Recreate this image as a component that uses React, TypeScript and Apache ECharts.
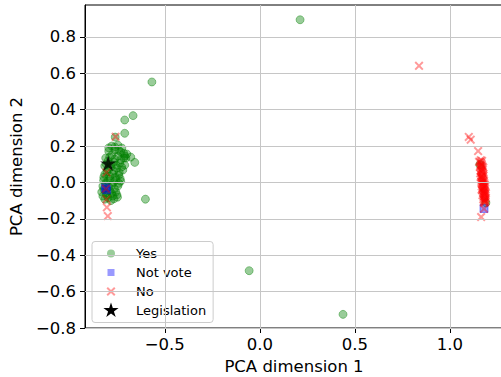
import React, { useEffect, useRef } from 'react';
import * as echarts from 'echarts';

const xTicks = [-0.5, 0.0, 0.5, 1.0];
const yTicks = [-0.8, -0.6, -0.4, -0.2, 0.0, 0.2, 0.4, 0.6, 0.8];
const seriesNames = ['Yes', 'Not vote', 'No', 'Legislation'];

const yesPoints: [number, number][] = [
  [0.212, 0.894], [-0.568, 0.552], [-0.056, -0.485], [0.438, -0.725], [-0.602, -0.092],
  [-0.667, 0.367], [-0.711, 0.343], [-0.711, 0.27], [-0.761, 0.249], [-0.658, 0.11],
  [-0.749, -0.081], [-0.705, 0.134], [-0.71, 0.145],
  [-0.779, 0.2], [-0.747, 0.205], [-0.726, 0.189], [-0.795, 0.172], [-0.763, 0.178],
  [-0.732, 0.167], [-0.7, 0.156], [-0.679, 0.139], [-0.779, 0.15], [-0.747, 0.145],
  [-0.716, 0.134], [-0.811, 0.134], [-0.8, 0.117], [-0.768, 0.111], [-0.737, 0.106],
  [-0.711, 0.095], [-0.816, 0.09], [-0.784, 0.084], [-0.753, 0.079], [-0.721, 0.068],
  [-0.805, 0.057], [-0.774, 0.046], [-0.742, 0.04], [-0.821, 0.029], [-0.789, 0.018],
  [-0.758, 0.013], [-0.732, 0.007], [-0.811, -0.004], [-0.779, -0.015], [-0.747, -0.02],
  [-0.821, -0.037], [-0.789, -0.048], [-0.758, -0.053], [-0.805, -0.07], [-0.774, -0.075],
  [-0.816, -0.092], [-0.784, -0.1], [-0.826, -0.02], [-0.832, -0.053],
  [-0.795, 0.19], [-0.763, 0.195], [-0.742, 0.176], [-0.716, 0.16], [-0.79, 0.14],
  [-0.763, 0.128], [-0.732, 0.125], [-0.808, 0.1], [-0.784, 0.1], [-0.756, 0.095],
  [-0.727, 0.085], [-0.8, 0.072], [-0.768, 0.062], [-0.74, 0.055], [-0.816, 0.045],
  [-0.79, 0.035], [-0.76, 0.028], [-0.735, 0.022], [-0.8, 0.008], [-0.77, 0.0],
  [-0.742, -0.005], [-0.822, 0.012], [-0.795, -0.025], [-0.765, -0.035], [-0.81, -0.058],
  [-0.78, -0.06], [-0.752, -0.068], [-0.798, -0.085], [-0.768, -0.09], [-0.826, -0.075],
  [1.158, 0.098], [1.19, -0.112],
];

const notVotePoints: [number, number][] = [
  [-0.812, -0.03], [-0.806, -0.04], [1.18, -0.143],
];

const noPoints: [number, number][] = [
  [-0.759, 0.251], [-0.807, 0.055], [-0.81, -0.035], [-0.807, -0.093], [-0.805, -0.137], [-0.8, -0.185],
  [0.838, 0.641],
  [1.1, 0.25], [1.11, 0.235], [1.149, 0.172], [1.154, 0.113],
  [1.163, 0.122], [1.17, 0.118], [1.166, 0.105], [1.161, 0.095], [1.171, 0.09], [1.166, 0.078],
  [1.174, 0.07], [1.163, 0.064], [1.169, 0.055], [1.176, 0.047], [1.166, 0.04], [1.172, 0.031],
  [1.178, 0.022], [1.168, 0.015], [1.175, 0.006], [1.181, -0.003], [1.17, -0.01], [1.177, -0.019],
  [1.183, -0.027], [1.173, -0.034], [1.18, -0.043], [1.186, -0.05], [1.175, -0.058], [1.183, -0.066],
  [1.188, -0.074], [1.178, -0.081], [1.185, -0.089], [1.181, -0.098], [1.188, -0.104], [1.184, -0.11],
  [1.16, 0.112], [1.168, 0.098], [1.176, 0.082], [1.158, 0.085], [1.165, 0.068], [1.173, 0.06],
  [1.16, 0.05], [1.178, 0.038], [1.165, 0.028], [1.171, 0.02], [1.18, 0.01], [1.166, 0.003],
  [1.172, -0.004], [1.184, -0.012], [1.168, -0.022], [1.176, -0.028], [1.186, -0.036], [1.171, -0.045],
  [1.178, -0.052], [1.19, -0.06], [1.172, -0.07], [1.181, -0.075], [1.19, -0.085], [1.176, -0.092],
  [1.186, -0.097], [1.179, -0.107], [1.162, 0.03], [1.167, -0.04], [1.182, -0.062], [1.187, -0.02],
  [1.18, -0.145], [1.165, -0.19],
];

const legislationPoints: [number, number][] = [[-0.798, 0.105]];

const X_PATH = 'path://M0,1.4L1.4,0L4.5,3.1L7.6,0L9,1.4L5.9,4.5L9,7.6L7.6,9L4.5,5.9L1.4,9L0,7.6L3.1,4.5Z';
const STAR_PATH = 'path://M50,0L61.23,34.55L97.55,34.55L68.16,55.9L79.39,90.45L50,69.1L20.61,90.45L31.84,55.9L2.45,34.55L38.77,34.55Z';

const BOX = 'M0,0L0,0.01M35,16L35,15.99';
const LEG_CIRCLE = 'path://' + BOX + 'M11,8A4,4,0,1,0,19,8A4,4,0,1,0,11,8Z';
const LEG_SQUARE = 'path://' + BOX + 'M11.5,4.5L18.5,4.5L18.5,11.5L11.5,11.5Z';
const LEG_X = 'path://' + BOX + 'M10.5,4.9L11.9,3.5L15,6.6L18.1,3.5L19.5,4.9L16.4,8L19.5,11.1L18.1,12.5L15,9.4L11.9,12.5L10.5,11.1L13.6,8Z';
const LEG_STAR = 'path://' + BOX + 'M15,0L16.8,5.53L22.61,5.53L17.91,8.94L19.7,14.47L15,11.06L10.3,14.47L12.09,8.94L7.39,5.53L13.2,5.53Z';

const fmt = (v: number) => v.toFixed(1).replace('-', '\u2212');
const GRID_COLOR = '#c6c6c6';

export default function App() {
  const ref = useRef<HTMLDivElement>(null);
  useEffect(() => {
    if (!ref.current) return;
    const chart = echarts.init(ref.current, null, { renderer: 'svg' });
    const font = 'DejaVu Sans';
    chart.setOption({
      animation: false,
      textStyle: { fontFamily: font },
      grid: {
        left: 85, top: 5, right: -2, bottom: 49,
        outerBoundsMode: 'none', containLabel: false,
        show: true, borderColor: '#000', borderWidth: 1, backgroundColor: 'transparent',
      },
      xAxis: {
        type: 'value', min: -0.92, max: 1.28,
        name: 'PCA dimension 1', nameLocation: 'middle', nameGap: 27,
        nameTextStyle: { fontSize: 16.5, color: '#000', fontFamily: font },
        axisLine: { show: true, onZero: false, lineStyle: { color: '#000', width: 1 } },
        axisTick: { show: true, length: 5, customValues: xTicks, lineStyle: { color: '#000' } },
        axisLabel: { customValues: xTicks, formatter: fmt, fontSize: 16.5, color: '#000', margin: 8, fontFamily: font },
        splitLine: { show: false },
      },
      yAxis: {
        type: 'value', min: -0.8, max: 0.975,
        name: 'PCA dimension 2', nameLocation: 'middle', nameGap: 57,
        nameTextStyle: { fontSize: 16.5, color: '#000', fontFamily: font },
        axisLine: { show: true, onZero: false, lineStyle: { color: '#000', width: 1 } },
        axisTick: { show: true, length: 5, customValues: yTicks, lineStyle: { color: '#000' } },
        axisLabel: { customValues: yTicks, formatter: fmt, fontSize: 16.5, color: '#000', margin: 9, fontFamily: font },
        splitLine: { show: false },
      },
      legend: {
        orient: 'vertical', left: 92, top: 241.5,
        itemWidth: 35, itemHeight: 16, itemGap: 3,
        padding: [4, 7, 4, 4],
        backgroundColor: 'rgba(255,255,255,0.8)', borderColor: '#cccccc', borderWidth: 1, borderRadius: 3,
        textStyle: { fontFamily: font, fontSize: 13, color: '#000' },
        itemStyle: { borderWidth: 0 },
        selectedMode: false,
        data: [
          { name: seriesNames[0], icon: LEG_CIRCLE },
          { name: seriesNames[1], icon: LEG_SQUARE },
          { name: seriesNames[2], icon: LEG_X },
          { name: seriesNames[3], icon: LEG_STAR, itemStyle: { color: '#000', opacity: 1 } },
        ],
      },
      series: [
        {
          type: 'scatter', name: 'gridlines', data: [], z: 1, silent: true,
          markLine: {
            silent: true, symbol: ['none', 'none'], label: { show: false },
            lineStyle: { color: GRID_COLOR, width: 1, type: 'solid' },
            emphasis: { disabled: true },
            data: [
              ...xTicks.map((v) => ({ xAxis: v })),
              ...yTicks.map((v) => ({ yAxis: v })),
            ],
          },
        },
        {
          type: 'scatter', name: seriesNames[0], data: yesPoints, symbol: 'circle', symbolSize: 8,
          itemStyle: { color: 'rgba(0,128,0,0.5)', borderColor: 'rgba(0,128,0,0.5)', borderWidth: 1 },
        },
        {
          type: 'scatter', name: seriesNames[1], data: notVotePoints, symbol: 'rect', symbolSize: 8,
          itemStyle: { color: 'rgba(0,0,255,0.5)', borderColor: 'rgba(0,0,255,0.5)', borderWidth: 1 },
        },
        {
          type: 'scatter', name: seriesNames[2], data: noPoints, symbol: X_PATH, symbolSize: 9,
          itemStyle: { color: 'rgba(255,0,0,0.5)', borderWidth: 0 },
        },
        {
          type: 'scatter', name: seriesNames[3], data: legislationPoints, symbol: STAR_PATH, symbolSize: 16,
          symbolKeepAspect: true,
          itemStyle: { color: '#000', borderWidth: 0 },
        },
      ],
    });
    return () => chart.dispose();
  }, []);
  return <div ref={ref} style={{ position: 'absolute', left: 0, top: 0, width: 501, height: 377 }} />;
}
